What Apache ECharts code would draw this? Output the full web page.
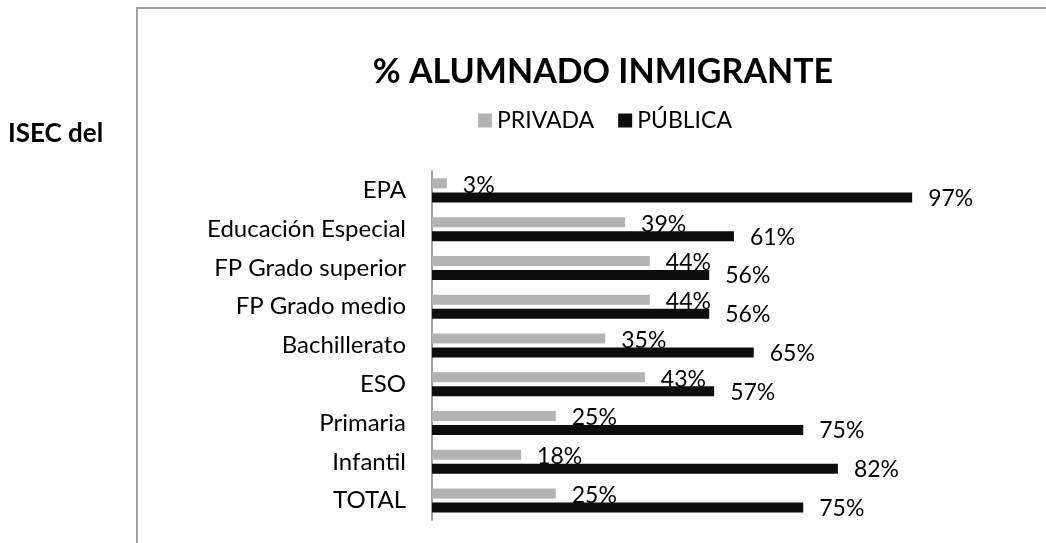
<!DOCTYPE html>
<html>
<head>
<meta charset="utf-8">
<script src="https://cdn.jsdelivr.net/npm/echarts@6/dist/echarts.min.js"></script>
<style>
  html, body { margin: 0; padding: 0; background: #fff; }
  #chart { width: 1046px; height: 543px; }
</style>
</head>
<body>
<div id="chart"></div>
<script>
"use strict";

const categories = [
  "EPA",
  "Educación Especial",
  "FP Grado superior",
  "FP Grado medio",
  "Bachillerato",
  "ESO",
  "Primaria",
  "Infantil",
  "TOTAL",
];
const privada = [3, 39, 44, 44, 35, 43, 25, 18, 25];
const publica = [97, 61, 56, 56, 65, 57, 75, 82, 75];
const seriesNames = ["PRIVADA", "PÚBLICA"];

const FONT = "Lato, 'Noto Sans', sans-serif";

const chart = echarts.init(document.getElementById("chart"));

const labelStyle = (dy) => ({
  show: true,
  position: "right",
  distance: 16,
  offset: [0, dy],
  fontFamily: FONT,
  fontSize: 23,
  color: "#000",
  formatter: (p) => `${p.value}%`,
});

chart.setOption({
  backgroundColor: "#fff",
  animation: false,

  title: {
    text: "% ALUMNADO INMIGRANTE",
    left: 598,
    top: 50,
    textAlign: "center",
    textStyle: {
      fontFamily: FONT,
      fontSize: 34,
      fontWeight: "bold",
      color: "#000",
    },
  },

  legend: {
    data: seriesNames,
    left: 473,
    top: 104,
    icon: "rect",
    itemWidth: 14,
    itemHeight: 14,
    itemGap: 24,
    textStyle: { fontFamily: FONT, fontSize: 23, color: "#000" },
  },

  graphic: [
    {
      type: "rect",
      shape: { x: 137, y: 8, width: 1000, height: 700 },
      style: { fill: "none", stroke: "#a0a0a0", lineWidth: 2 },
      silent: true,
    },
    {
      type: "text",
      left: 8,
      top: 121,
      style: {
        text: "ISEC del",
        font: `bold 26px ${FONT}`,
        fill: "#000",
      },
    },
  ],

  grid: { left: 432, right: 119, top: 171, bottom: 23 },

  xAxis: {
    type: "value",
    min: 0,
    max: 100,
    show: false,
  },

  yAxis: {
    type: "category",
    data: categories,
    inverse: true,
    axisLine: { show: true, lineStyle: { color: "#a6a6a6", width: 2 } },
    axisTick: { show: false },
    axisLabel: {
      margin: 26,
      fontFamily: FONT,
      fontSize: 24,
      color: "#000",
    },
  },

  series: [
    {
      name: seriesNames[0],
      type: "bar",
      data: privada,
      barWidth: 10,
      barGap: "40%",
      itemStyle: { color: "#b3b3b3" },
      label: labelStyle(2),
    },
    {
      name: seriesNames[1],
      type: "bar",
      data: publica,
      barWidth: 10,
      barGap: "40%",
      itemStyle: { color: "#0d0d0d" },
      label: labelStyle(1),
    },
  ],
});
</script>
</body>
</html>
